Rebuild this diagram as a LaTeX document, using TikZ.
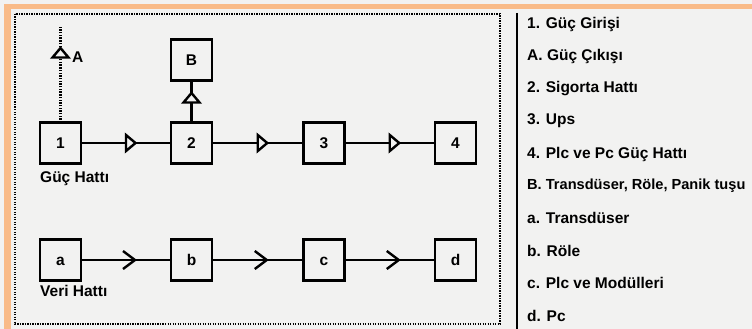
\documentclass[tikz,border=0pt]{standalone}
\usepackage{fontspec}
\setmainfont{Liberation Sans}
\usetikzlibrary{decorations.markings}
\definecolor{paper}{HTML}{F2F2F1}
\definecolor{frameorange}{HTML}{F9BB88}

\tikzset{
  lbl/.style={font=\bfseries\fontsize{15.5}{18}\selectfont},
  blk/.style={lbl, draw, line width=2.6pt, minimum size=41pt, inner sep=0pt, outer sep=0pt,
    text height=11pt, text depth=0pt},
  txt/.style={lbl, anchor=west, inner sep=0pt},
  wire/.style={line width=2.4pt},
  dotwire/.style={line width=2.4pt, dash pattern=on 1.4pt off 1.3pt},
  opentri/.style={postaction={decorate}, decoration={markings,
      mark=at position #1 with {\draw[solid, line width=2.4pt, fill=paper, line join=miter]
        (0pt,-8pt) -- (9.5pt,0pt) -- (0pt,8pt) -- cycle;}}},
  chevron/.style={postaction={decorate}, decoration={markings,
      mark=at position 0.5 with {\draw[solid, line width=2.4pt, line join=miter]
        (-3pt,-9pt) -- (9pt,0pt) -- (-3pt,9pt);}}},
}

\begin{document}
\begin{tikzpicture}[x=1pt, y=-1pt]
  \useasboundingbox (0,0) rectangle (752,329);
  % paper and orange frame edges
  \fill[paper] (0,0) rectangle (752,329);
  \fill[frameorange] (4,4) rectangle (752,9);
  \fill[frameorange] (4,4) rectangle (11,329);

  % dotted diagram frame
  \draw[line width=2.4pt, dash pattern=on 1.4pt off 1.1pt] (15,14) rectangle (500,324);

  % power line blocks
  \node[blk] (b1) at (60.5,143) {1};
  \node[blk] (b2) at (191.5,143) {2};
  \node[blk] (bB) at (191.5,60) {B};
  \node[blk] (b3) at (324,143) {3};
  \node[blk] (b4) at (455.5,143) {4};
  \coordinate (Atop) at (60.5,26);
  \node[txt] (lA) at (72,57) {A};
  \node[txt] (gh) at (40,179) {Güç Hattı};

  % data line blocks
  \node[blk] (ba) at (60.5,260) {a};
  \node[blk] (bb) at (191.5,260) {b};
  \node[blk] (bc) at (324,260) {c};
  \node[blk] (bd) at (455.5,260) {d};
  \node[txt] (vh) at (40,291) {Veri Hattı};

  % power connectors
  \draw[wire, opentri=0.5] (b1) -- (b2);
  \draw[wire, opentri=0.5] (b2) -- (b3);
  \draw[wire, opentri=0.5] (b3) -- (b4);
  \draw[wire, opentri=20pt] (b2) -- (bB);
  \draw[dotwire, opentri=65pt] (b1) -- (Atop);

  % data connectors
  \draw[wire, chevron] (ba) -- (bb);
  \draw[wire, chevron] (bb) -- (bc);
  \draw[wire, chevron] (bc) -- (bd);

  % legend
  \coordinate (lgtop) at (517,13);
  \coordinate (lgbot) at (517,329);
  \draw[line width=2.6pt] (lgtop) -- (lgbot);
  \node[txt] (e1) at (527,24)  {1. Güç Girişi};
  \node[txt] (e2) at (527,56)  {A. Güç Çıkışı};
  \node[txt] (e3) at (527,89)  {2. Sigorta Hattı};
  \node[txt] (e4) at (527,121) {3. Ups};
  \node[txt] (e5) at (527,154) {4. Plc ve Pc Güç Hattı};
  \node[txt, font=\bfseries\fontsize{14.6}{18}\selectfont] (e6) at (527,186) {B. Transdüser, Röle, Panik tuşu};
  \node[txt] (e7) at (527,218) {a. Transdüser};
  \node[txt] (e8) at (527,251) {b. Röle};
  \node[txt] (e9) at (527,283) {c. Plc ve Modülleri};
  \node[txt] (e10) at (527,316) {d. Pc};
\end{tikzpicture}
\end{document}
